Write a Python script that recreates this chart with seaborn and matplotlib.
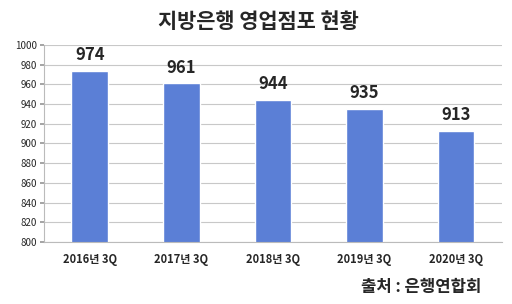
import matplotlib
matplotlib.use("Agg")
import matplotlib.pyplot as plt
import seaborn as sns
import pandas as pd

categories = ["2016년 3Q", "2017년 3Q", "2018년 3Q", "2019년 3Q", "2020년 3Q"]
values = [974, 961, 944, 935, 913]
yticks = list(range(800, 1001, 20))
title = "지방은행 영업점포 현황"
source = "출처 : 은행연합회"

sns.set_theme(style="white")
plt.rcParams['font.family'] = ['Noto Sans CJK KR', 'DejaVu Sans']

df = pd.DataFrame({"cat": categories, "val": values})
fig = plt.figure(figsize=(5.12, 3.04), dpi=100)
ax = fig.add_axes([0.086, 0.204, 0.894, 0.648])
sns.barplot(data=df, x="cat", y="val", color="#5B7FD6", width=0.4, ax=ax, saturation=1)
ax.set_ylim(800, 1000)
ax.set_yticks(yticks)
ax.set_yticklabels([str(t) for t in yticks], fontsize=7)
ax.yaxis.grid(True, color="#C8C8C8", linewidth=0.8)
ax.set_axisbelow(True)
ax.set_xlabel("")
ax.set_ylabel("")
ax.set_xlim(-0.5, 4.5)
ax.tick_params(axis="x", length=0, pad=8)
for lbl in ax.get_xticklabels():
    lbl.set_fontsize(8)
    lbl.set_fontweight("bold")
ax.tick_params(axis="y", length=3, color="#999999", pad=2)
ax.yaxis.set_tick_params(which="both", left=True)
ax.set_xticks([0.5, 1.5, 2.5, 3.5, 4.5], minor=True)
ax.tick_params(axis="x", which="minor", length=3, color="#BBBBBB", direction="out")
for side in ["top", "right"]:
    ax.spines[side].set_visible(False)
for side in ["left", "bottom"]:
    ax.spines[side].set_color("#BBBBBB")
    ax.spines[side].set_linewidth(0.8)
for i, v in enumerate(values):
    ax.text(i, v + 7, str(v), ha="center", va="bottom", fontsize=12, fontweight="bold")
fig.text(0.505, 0.93, title, ha="center", va="center", fontsize=15, fontweight="bold")
fig.text(0.94, 0.055, source, ha="right", va="center", fontsize=12, fontweight="bold")
fig.savefig("out.png", dpi=100)
